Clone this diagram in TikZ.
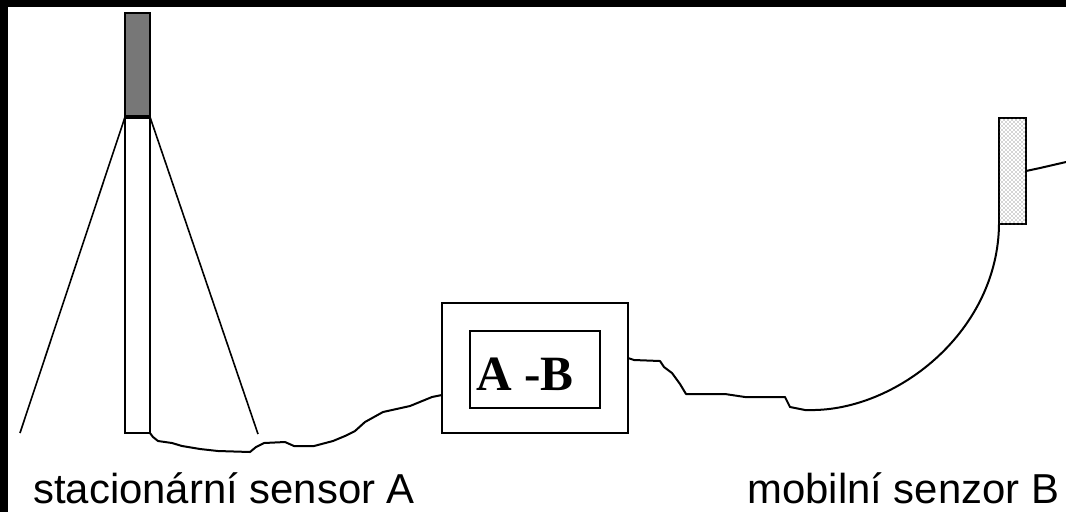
\documentclass[tikz,border=0pt]{standalone}
\usepackage{fontspec}
\setmainfont{Liberation Serif}
\setsansfont{Liberation Sans}
\usetikzlibrary{calc,patterns}
\definecolor{headgray}{RGB}{119,119,119}

\begin{document}
\begin{tikzpicture}[x=0.75pt,y=-0.75pt,
    wire/.style={draw=black,line width=1.5pt,line join=round},
    guy/.style={draw=black,line width=1.2pt},
    caption/.style={anchor=base west,inner sep=0pt,font=\sffamily\fontsize{31.4}{36}\selectfont}]
  \useasboundingbox (0,0) rectangle (1066,512);
  \fill[black] (0,0) rectangle (1066,7);
  \fill[black] (0,0) rectangle (8,512);

  % sensors and the A-B unit
  \begin{scope}[every node/.style={rectangle,draw,line width=1.5pt,inner sep=0pt,outer sep=0pt}]
    \node[fill=headgray,minimum width=18.75pt,minimum height=78pt] (head) at (137.5,65) {};
    \node[fill=white,minimum width=18.75pt,minimum height=237pt] (pole) at (137.5,275) {};
    \node[minimum width=139.5pt,minimum height=97.5pt] (box) at (535,368) {};
    \node[minimum width=97.5pt,minimum height=57.75pt] (inner) at (535,369.5) {};
    \node[fill=white,postaction={pattern=crosshatch dots,pattern color=black!70},
          minimum width=20.25pt,minimum height=79.5pt] (mobil) at (1012.5,171) {};
  \end{scope}
  \draw[line width=3pt] (head.south west) -- (head.south east);
  \node[inner sep=0pt,font=\bfseries\fontsize{37}{40}\selectfont] (ab) at (525,374.5) {A -B};

  % guy lines of the mast
  \coordinate (footL) at (20,433);
  \coordinate (footR) at (258,434);
  \draw[guy] (pole.north west) -- (footL);
  \draw[guy] (pole.north east) -- (footR);

  % cables
  \draw[wire] (pole.south east) -- (153,437) -- (158,441) -- (172,443) -- (182,446)
    -- (200,449) -- (218,451) -- (250,452) -- (256,447) -- (264,443) -- (285,442)
    -- (294,446) -- (314,446) -- (333,441) -- (345,436) -- (355,431) -- (365,422)
    -- (383,412) -- (410,406) -- (432,397) -- ($(box.south west)+(0,-38)$);
  \draw[wire] ($(box.north east)+(0,55)$) -- (634,360) -- (660,361) -- (664,367)
    -- (672,373) -- (680,384) -- (686,394) -- (725,394) -- (745,397) -- (785,397)
    -- (790,407) -- (805,410) -- (815,410)
    .. controls (900,408) and (998,330) .. (mobil.south west);
  \coordinate (cableEnd) at (1066,162);
  \draw[wire] (mobil.east) -- (1040,168) -- (cableEnd);

  \node[caption] (labelA) at (33,503) {stacionární sensor A};
  \node[caption] (labelB) at (747,503) {mobilní senzor B};
\end{tikzpicture}
\end{document}
